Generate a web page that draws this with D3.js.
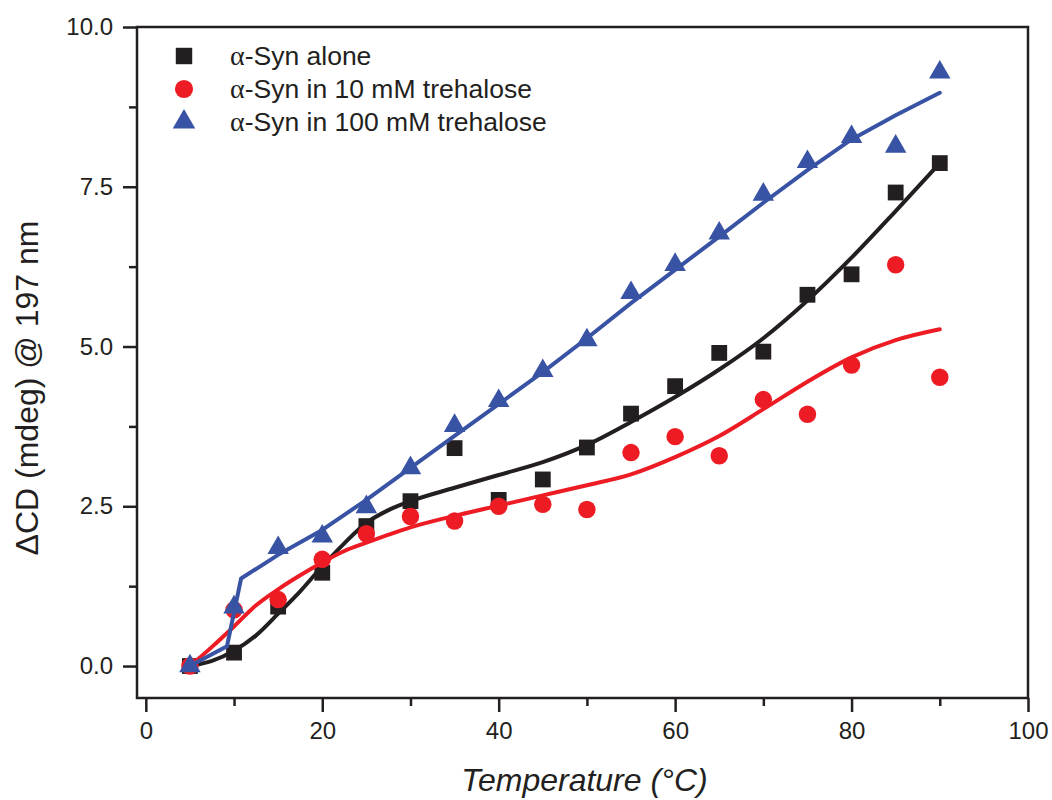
<!DOCTYPE html>
<html>
<head>
<meta charset="utf-8">
<script src="https://cdn.jsdelivr.net/npm/d3@7"></script>
<style>
  html, body { margin: 0; padding: 0; background: #fff; }
  svg { display: block; }
  text { font-family: "Liberation Sans", Arial, Helvetica, sans-serif; fill: #231f20; }
</style>
</head>
<body>
<svg id="chart" width="1052" height="800"></svg>
<script>
// Temperatures (°C) at which the CD signal was measured
const temperatures = [5, 10, 15, 20, 25, 30, 35, 40, 45, 50, 55, 60, 65, 70, 75, 80, 85, 90];

// ΔCD (mdeg) at 197 nm, measured points
const synAlone     = [0.00, 0.21, 0.93, 1.46, 2.19, 2.58, 3.41, 2.60, 2.92, 3.42, 3.95, 4.38, 4.90, 4.92, 5.81, 6.13, 7.41, 7.87];
const syn10mM      = [0.00, 0.88, 1.04, 1.67, 2.07, 2.34, 2.27, 2.50, 2.53, 2.45, 3.34, 3.59, 3.29, 4.17, 3.94, 4.71, 6.28, 4.52];
const syn100mM     = [0.00, 0.92, 1.85, 2.03, 2.49, 3.10, 3.76, 4.15, 4.62, 5.10, 5.84, 6.28, 6.77, 7.38, 7.89, 8.28, 8.13, 9.29];

// Fitted curves: [temperature, ΔCD]
const fitAlone = [[5,0.00],[7.5,0.08],[10,0.24],[12.5,0.48],[15,0.82],[17.5,1.17],[20,1.56],[22.5,1.92],[25,2.24],[27.5,2.44],[30,2.58],[35,2.79],[40,2.99],[45,3.19],[50,3.46],[55,3.82],[60,4.21],[65,4.64],[70,5.13],[75,5.72],[80,6.39],[85,7.12],[90,7.87]];
const fit10mM  = [[5,0.00],[7.5,0.30],[10,0.62],[12.5,0.95],[15,1.20],[17.5,1.42],[20,1.62],[22.5,1.80],[25,1.93],[30,2.17],[35,2.35],[40,2.51],[45,2.67],[50,2.83],[55,3.00],[60,3.27],[65,3.60],[70,4.02],[75,4.45],[80,4.83],[85,5.10],[90,5.27]];
const fit100mM = [[5,0.00],[9.2,0.31],[10.8,1.37],[15,1.74],[20,2.13],[25,2.60],[30,3.10],[35,3.60],[40,4.10],[45,4.60],[50,5.13],[55,5.68],[60,6.20],[65,6.72],[70,7.25],[75,7.76],[80,8.24],[85,8.62],[90,8.97]];

// Axis ticks
const xMajorTicks = [0, 20, 40, 60, 80, 100];
const xMinorTicks = [10, 30, 50, 70, 90];
const yMajorTicks = [0, 2.5, 5, 7.5, 10];
const yMinorTicks = [1.25, 3.75, 6.25, 8.75];

const seriesNames = ["-Syn alone", "-Syn in 10 mM trehalose", "-Syn in 100 mM trehalose"];

const ink = "#231f20";
const colors = ["#231f20", "#ed1c24", "#3953a4"];

const margin = { left: 137, right: 1028, top: 27, bottom: 698 };

const svg = d3.select("#chart");

const x = d3.scaleLinear().domain([-1, 100]).range([margin.left, margin.right]);
const y = d3.scaleLinear().domain([-0.5, 10]).range([margin.bottom, margin.top]);

// Axes
const xAxis = svg.append("g").attr("transform", `translate(0,${margin.bottom})`)
  .call(d3.axisBottom(x).tickValues(xMajorTicks).tickSize(14).tickPadding(10).tickFormat(d3.format("d")));
const xMinor = svg.append("g").attr("transform", `translate(0,${margin.bottom})`)
  .call(d3.axisBottom(x).tickValues(xMinorTicks).tickSize(8).tickFormat(""));
const yAxis = svg.append("g").attr("transform", `translate(${margin.left},0)`)
  .call(d3.axisLeft(y).tickValues(yMajorTicks).tickSize(14).tickPadding(10).tickFormat(d3.format(".1f")));
const yMinor = svg.append("g").attr("transform", `translate(${margin.left},0)`)
  .call(d3.axisLeft(y).tickValues(yMinorTicks).tickSize(8).tickFormat(""));

[xAxis, xMinor, yAxis, yMinor].forEach(g => {
  g.select(".domain").remove();
  g.selectAll(".tick line").attr("stroke", ink).attr("stroke-width", 2.5);
  g.selectAll(".tick text").attr("fill", ink).style("font-size", "24px")
    .style("font-family", "'Liberation Sans', Arial, sans-serif");
});

// Frame around the plot area
svg.append("rect")
  .attr("x", margin.left).attr("y", margin.top)
  .attr("width", margin.right - margin.left).attr("height", margin.bottom - margin.top)
  .attr("fill", "none").attr("stroke", ink).attr("stroke-width", 2.5);

// Series
const shapes = [d3.symbolSquare, d3.symbolCircle, d3.symbolTriangle];
const sizes = [250, 240, 200];
const values = [synAlone, syn10mM, syn100mM];
const fits = [fitAlone, fit10mM, fit100mM];
const curves = [d3.curveMonotoneX, d3.curveMonotoneX, d3.curveLinear];

const plot = svg.append("g");
values.forEach((vals, i) => {
  plot.append("g").selectAll("path")
    .data(temperatures.map((t, j) => [t, vals[j]]))
    .join("path")
    .attr("transform", d => `translate(${x(d[0])},${y(d[1])})`)
    .attr("d", d3.symbol().type(shapes[i]).size(sizes[i]))
    .attr("fill", colors[i]);

  plot.append("path")
    .datum(fits[i])
    .attr("fill", "none")
    .attr("stroke", colors[i])
    .attr("stroke-width", 4)
    .attr("stroke-linejoin", "round")
    .attr("stroke-linecap", "round")
    .attr("d", d3.line().x(d => x(d[0])).y(d => y(d[1])).curve(curves[i]));
});

// Legend
const legend = svg.append("g");
const legendY = [56, 89, 122];
seriesNames.forEach((name, i) => {
  legend.append("path")
    .attr("transform", `translate(184,${legendY[i]})`)
    .attr("d", d3.symbol().type(shapes[i]).size(sizes[i] + 20))
    .attr("fill", colors[i]);
  const t = legend.append("text")
    .attr("x", 230).attr("y", legendY[i] + 9)
    .style("font-size", "26.5px");
  t.append("tspan").style("font-family", "'Liberation Serif', 'Times New Roman', serif")
    .style("font-size", "28px").text("α");
  t.append("tspan").text(name);
});

// Axis titles
svg.append("text")
  .attr("x", (margin.left + margin.right) / 2 + 2)
  .attr("y", 791)
  .attr("text-anchor", "middle")
  .style("font-size", "32px")
  .style("font-style", "italic")
  .text("Temperature (°C)");

svg.append("text")
  .attr("transform", "translate(38,388) rotate(-90)")
  .attr("text-anchor", "middle")
  .style("font-size", "32px")
  .text("ΔCD (mdeg) @ 197 nm");
</script>
</body>
</html>
